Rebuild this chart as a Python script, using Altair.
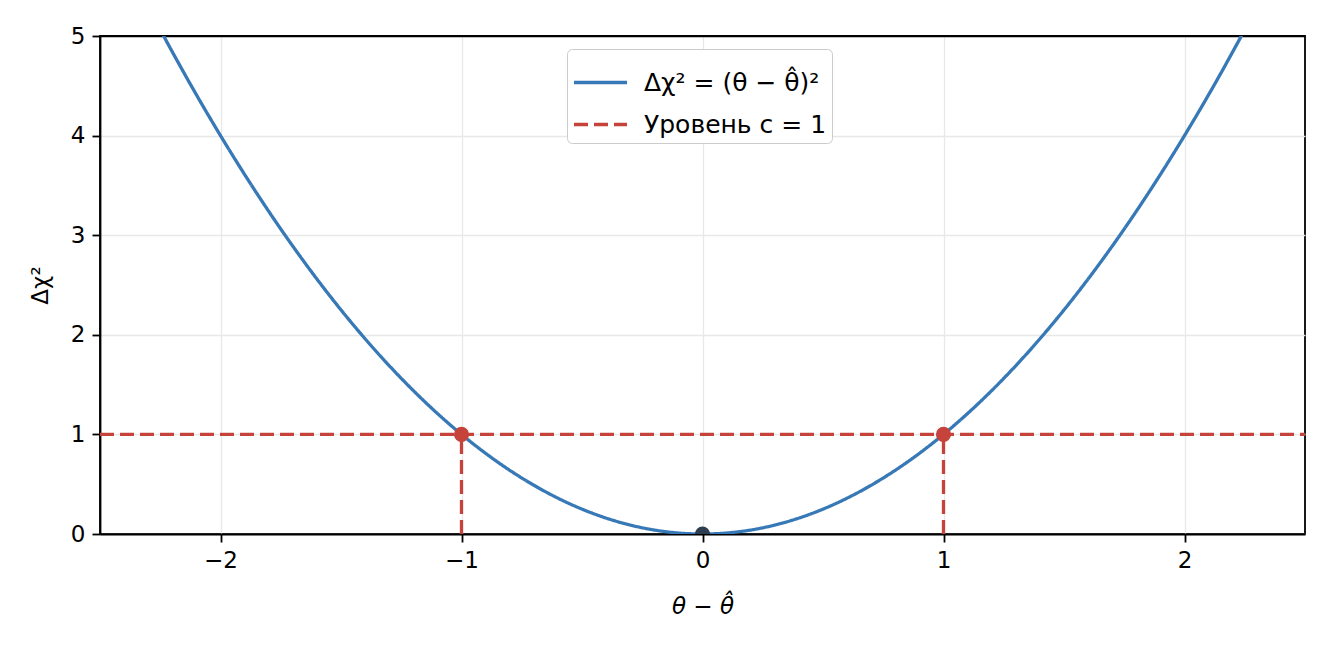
import altair as alt
import pandas as pd

# ---- data ----
theta = [-2.25, -2.125, -2.0, -1.875, -1.75, -1.625, -1.5, -1.375, -1.25, -1.125,
         -1.0, -0.875, -0.75, -0.625, -0.5, -0.375, -0.25, -0.125, 0.0,
         0.125, 0.25, 0.375, 0.5, 0.625, 0.75, 0.875, 1.0,
         1.125, 1.25, 1.375, 1.5, 1.625, 1.75, 1.875, 2.0, 2.125, 2.25]
chi2 = [5.0625, 4.5156, 4.0, 3.5156, 3.0625, 2.6406, 2.25, 1.8906, 1.5625, 1.2656,
        1.0, 0.7656, 0.5625, 0.3906, 0.25, 0.1406, 0.0625, 0.0156, 0.0,
        0.0156, 0.0625, 0.1406, 0.25, 0.3906, 0.5625, 0.7656, 1.0,
        1.2656, 1.5625, 1.8906, 2.25, 2.6406, 3.0625, 3.5156, 4.0, 4.5156, 5.0625]

level_x = [-2.5, 2.5]
level_y = [1.0, 1.0]
cross_x = [-1.0, 1.0]
cross_y = [1.0, 1.0]
min_x = [0.0]
min_y = [0.0]
x_ticks = [-2, -1, 0, 1, 2]
y_ticks = [0, 1, 2, 3, 4, 5]

curve_label = "Δχ² = (θ − θ̂)²"
level_label = "Уровень c = 1"
x_title = "θ − θ̂"
y_title = "Δχ²"

BLUE = "#3778b6"
RED = "#c5433a"
DARK = "#2c3e50"
GRID = "#e8e8e8"
FONT = "DejaVu Sans"
FS = 23

curve_df = pd.DataFrame({"x": theta, "y": chi2, "series": curve_label})
level_df = pd.DataFrame({"x": level_x, "y": level_y, "series": level_label})
vert_df = pd.DataFrame({"x": cross_x, "y0": [0.0, 0.0], "y1": cross_y})
cross_df = pd.DataFrame({"x": cross_x, "y": cross_y})
min_df = pd.DataFrame({"x": min_x, "y": min_y})

xscale = alt.Scale(domain=[-2.5, 2.5], nice=False, zero=False)
yscale = alt.Scale(domain=[0, 5], nice=False, zero=False)

xaxis = alt.Axis(values=x_ticks, title=x_title, titleFontStyle="italic",
                 grid=True, format="d")
yaxis = alt.Axis(values=y_ticks, title=y_title, grid=True, format="d",
                 gridColor={"condition": {"test": "datum.value === 5", "value": "black"},
                            "value": GRID})

color_scale = alt.Scale(domain=[curve_label, level_label], range=[BLUE, RED])
dash_scale = alt.Scale(domain=[curve_label, level_label], range=[[1, 0], [14, 6]])

legend = alt.Legend(title=None, orient="none", legendX=467, legendY=13,
                    symbolType="stroke", symbolSize=2809, symbolStrokeWidth=3.3,
                    labelFontSize=25, labelFont=FONT, labelColor="black",
                    padding=5, rowPadding=-2, labelOffset=15, labelLimit=400,
                    fillColor="white", strokeColor="#cccccc",
                    cornerRadius=5)

LW = 3.3

vert = alt.Chart(vert_df).mark_rule(color=RED, strokeWidth=LW, strokeDash=[14, 6]).encode(
    x=alt.X("x:Q", scale=xscale, axis=xaxis),
    y=alt.Y("y0:Q", scale=yscale, axis=yaxis),
    y2="y1:Q",
)

level = alt.Chart(level_df).mark_line(strokeWidth=LW, clip=True).encode(
    x=alt.X("x:Q", scale=xscale, axis=xaxis),
    y=alt.Y("y:Q", scale=yscale, axis=yaxis),
    color=alt.Color("series:N", scale=color_scale, legend=legend),
    strokeDash=alt.StrokeDash("series:N", scale=dash_scale, legend=legend),
)

curve = alt.Chart(curve_df).mark_line(strokeWidth=LW, clip=True, interpolate="monotone").encode(
    x=alt.X("x:Q", scale=xscale, axis=xaxis),
    y=alt.Y("y:Q", scale=yscale, axis=yaxis),
    color=alt.Color("series:N", scale=color_scale, legend=legend),
    strokeDash=alt.StrokeDash("series:N", scale=dash_scale, legend=legend),
)

cross = alt.Chart(cross_df).mark_circle(size=230, color=RED, opacity=1).encode(
    x=alt.X("x:Q", scale=xscale, axis=xaxis),
    y=alt.Y("y:Q", scale=yscale, axis=yaxis),
)

minimum = alt.Chart(min_df).mark_circle(size=230, color=DARK, opacity=1, clip=True).encode(
    x=alt.X("x:Q", scale=xscale, axis=xaxis),
    y=alt.Y("y:Q", scale=yscale, axis=yaxis),
)

chart = alt.layer(vert, level, curve, cross, minimum).properties(
    width=1205, height=498,
    autosize=alt.AutoSizeParams(type="none"),
    padding={"left": 92, "top": 28, "right": 19, "bottom": 100},
    background="white",
).configure_view(
    stroke="black", strokeWidth=1.8
).configure_axis(
    labelFont=FONT, titleFont=FONT, labelFontSize=FS, titleFontSize=FS,
    labelColor="black", titleColor="black", titleFontWeight="normal",
    domainColor="black", domainWidth=1.8, tickColor="black", tickWidth=1.8,
    tickSize=8, labelPadding=7, gridColor=GRID, gridWidth=1.3,
).configure_axisX(
    titlePadding=23,
).configure_axisY(
    titlePadding=18,
)

chart.save("out.html", embed_options={"renderer": "svg", "actions": False})
